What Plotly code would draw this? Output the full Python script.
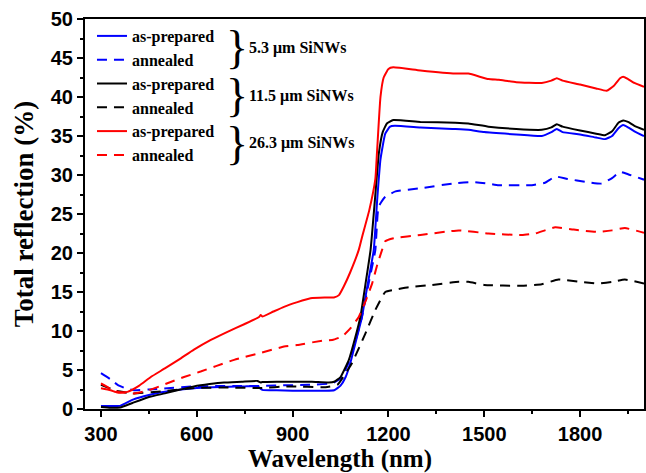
import plotly.graph_objects as go

# ---- data (wavelength in nm, total reflection in %) ----
x_blue_prep = [300, 330, 360, 400, 450, 500, 550, 600, 650, 700, 750, 790, 805, 850, 900, 950, 1000, 1030,
               1050, 1066, 1080, 1100, 1117, 1135, 1154, 1165, 1175, 1190, 1205, 1220, 1300, 1400, 1450, 1500,
               1600, 1680, 1710, 1727, 1745, 1800, 1850, 1878, 1900, 1920, 1935, 1950, 1970, 2000]
y_blue_prep = [0.4, 0.4, 0.4, 1.2, 1.8, 2.2, 2.5, 2.7, 2.8, 2.85, 2.9, 2.9, 2.45, 2.4, 2.35, 2.35, 2.35, 2.4,
               3.0, 4.1, 5.8, 9.0, 11.8, 16.0, 20.4, 27.0, 32.0, 35.3, 36.2, 36.3, 36.1, 35.9, 35.8, 35.5,
               35.2, 35.0, 35.5, 35.9, 35.5, 35.2, 34.8, 34.6, 35.0, 36.0, 36.4, 36.1, 35.6, 35.0]

x_blue_ann = [300, 330, 352, 380, 404, 450, 508, 591, 717, 800, 888, 950, 1024, 1055, 1080, 1100, 1117, 1140,
              1159, 1169, 1190, 1222, 1300, 1400, 1461, 1513, 1545, 1649, 1690, 1722, 1760, 1820, 1867, 1900,
              1925, 1950, 2000]
y_blue_ann = [4.6, 3.8, 3.1, 2.6, 2.4, 2.5, 2.65, 2.9, 2.95, 2.95, 3.05, 3.1, 3.3, 4.1, 6.5, 9.2, 11.8, 16.5,
              20.4, 25.9, 27.2, 27.9, 28.3, 28.9, 29.1, 28.9, 28.7, 28.7, 29.0, 29.8, 29.5, 29.1, 28.9, 29.6,
              30.4, 30.1, 29.4]

x_black_prep = [300, 330, 360, 400, 456, 500, 539, 591, 640, 685, 740, 790, 800, 805, 850, 914, 960, 1013,
                1030, 1050, 1076, 1095, 1112, 1128, 1144, 1158, 1170, 1182, 1195, 1215, 1300, 1409, 1450, 1513,
                1600, 1680, 1710, 1727, 1745, 1800, 1850, 1878, 1900, 1920, 1935, 1950, 1970, 2000]
y_black_prep = [0.25, 0.15, 0.2, 0.8, 1.6, 2.0, 2.4, 2.9, 3.2, 3.4, 3.5, 3.6, 3.4, 3.45, 3.5, 3.5, 3.5, 3.4,
                3.5, 4.1, 6.3, 9.0, 11.8, 16.0, 20.4, 27.0, 32.8, 35.5, 36.6, 37.05, 36.8, 36.7, 36.6, 36.2,
                35.9, 35.8, 36.1, 36.5, 36.2, 35.7, 35.3, 35.1, 35.6, 36.7, 37.0, 36.8, 36.3, 35.8]

x_black_ann = [300, 330, 350, 400, 500, 600, 700, 800, 888, 1003, 1040, 1055, 1086, 1128, 1159, 1190, 1222,
               1263, 1336, 1420, 1450, 1500, 1617, 1680, 1732, 1800, 1857, 1900, 1940, 2000]
y_black_ann = [3.1, 2.6, 2.3, 2.0, 2.3, 2.7, 2.75, 2.7, 2.9, 2.8, 3.1, 3.9, 5.9, 9.7, 12.7, 15.0, 15.3,
               15.6, 15.9, 16.3, 16.3, 15.9, 15.8, 16.0, 16.6, 16.3, 16.1, 16.3, 16.6, 16.1]

x_red_prep = [300, 330, 352, 383, 420, 456, 500, 550, 591, 644, 696, 750, 795, 800, 805, 840, 873, 915, 956,
              1000, 1029, 1045, 1060, 1080, 1107, 1117, 1140, 1159, 1164, 1175, 1185, 1200, 1215, 1300, 1409,
              1450, 1513, 1545, 1600, 1680, 1710, 1727, 1745, 1800, 1850, 1883, 1905, 1925, 1935, 1950, 1970, 2000]
y_red_prep = [2.65, 2.4, 2.1, 2.2, 3.0, 4.1, 5.2, 6.5, 7.6, 8.85, 9.9, 10.9, 11.8, 12.05, 11.85, 12.5, 13.1,
              13.7, 14.2, 14.3, 14.3, 14.6, 15.7, 17.5, 20.4, 22.0, 25.5, 29.5, 32.8, 40.0, 42.5, 43.6, 43.8,
              43.4, 43.0, 43.0, 42.3, 42.2, 41.9, 41.8, 42.1, 42.4, 42.1, 41.6, 41.1, 40.8, 41.4, 42.4, 42.6,
              42.3, 41.8, 41.3]

x_red_ann = [300, 330, 352, 404, 450, 508, 560, 612, 660, 717, 800, 873, 914, 998, 1024, 1055, 1080, 1107,
             1130, 1149, 1165, 1180, 1190, 1216, 1300, 1420, 1513, 1617, 1659, 1722, 1780, 1857, 1900, 1940, 2000]
y_red_ann = [3.3, 2.6, 2.2, 2.0, 2.4, 3.3, 4.1, 4.8, 5.5, 6.3, 7.2, 8.0, 8.2, 8.8, 8.85, 9.3, 10.3, 11.8,
             14.0, 16.1, 18.5, 20.4, 21.5, 21.9, 22.3, 22.9, 22.5, 22.3, 22.5, 23.3, 23.0, 22.7, 22.9, 23.2, 22.6]

legend_names = ["as-prepared", "annealed"]
group_labels = ["5.3 \u03bcm SiNWs", "11.5 \u03bcm SiNWs", "26.3 \u03bcm SiNWs"]
x_title = "Wavelength (nm)"
y_title = "Total reflection (%)"
x_ticks = [300, 600, 900, 1200, 1500, 1800]
y_ticks = [0, 5, 10, 15, 20, 25, 30, 35, 40, 45, 50]

series = [
    (x_blue_prep, y_blue_prep, "#0000FF", "solid", legend_names[0]),
    (x_blue_ann, y_blue_ann, "#0000FF", "10px,7px", legend_names[1]),
    (x_black_prep, y_black_prep, "#000000", "solid", legend_names[0]),
    (x_black_ann, y_black_ann, "#000000", "10px,7px", legend_names[1]),
    (x_red_prep, y_red_prep, "#FF0000", "solid", legend_names[0]),
    (x_red_ann, y_red_ann, "#FF0000", "10px,7px", legend_names[1]),
]

fig = go.Figure()
for xs, ys, col, dash, name in series:
    fig.add_trace(go.Scatter(x=xs, y=ys, mode="lines", name=name,
                             line=dict(color=col, width=2, dash=dash, shape="spline", smoothing=0.4)))

axis_font = dict(family="Liberation Sans, Arial", size=20, color="black", weight="bold")
title_font = dict(family="Liberation Serif, Times New Roman", size=27, color="black", weight="bold")
xtitle_font = dict(family="Liberation Serif, Times New Roman", size=25, color="black", weight="bold")

fig.update_layout(
    width=646, height=473,
    margin=dict(l=85, r=2, t=19, b=64),
    paper_bgcolor="white", plot_bgcolor="white",
    showlegend=True,
    legend=dict(x=0.0125, y=1.0, xanchor="left", yanchor="top",
                bgcolor="rgba(0,0,0,0)", borderwidth=0,
                font=dict(family="Liberation Serif, Times New Roman", size=16, color="black", weight="bold"),
                tracegroupgap=0, itemwidth=30),
    xaxis=dict(range=[250, 2000], tickvals=x_ticks, ticktext=[str(v) for v in x_ticks],
               ticks="outside", ticklen=6, tickwidth=2, tickcolor="black",
               minor=dict(dtick=150, tick0=300, ticks="outside", ticklen=3, tickwidth=1.5, tickcolor="black"),
               showline=True, linewidth=2, linecolor="black", mirror=True,
               showgrid=False, zeroline=False, tickfont=axis_font, automargin=False),
    yaxis=dict(range=[0, 50], tickvals=y_ticks, ticktext=[str(v) for v in y_ticks],
               ticks="outside", ticklen=6, tickwidth=2, tickcolor="black",
               minor=dict(dtick=2.5, tick0=0, ticks="outside", ticklen=3, tickwidth=1.5, tickcolor="black"),
               showline=True, linewidth=2, linecolor="black", mirror=True,
               showgrid=False, zeroline=False, tickfont=axis_font, automargin=False,
               title=dict(text=y_title, font=title_font, standoff=9)),
)

# x-axis title (offset left of the plot centre, as in the original figure)
fig.add_annotation(xref="paper", yref="paper", x=0.456, y=-0.127, text=x_title, showarrow=False,
                   xanchor="center", yanchor="middle", font=xtitle_font)

brace_y = [0.926, 0.803, 0.682]
for yy, lab in zip(brace_y, group_labels):
    fig.add_annotation(xref="paper", yref="paper", x=0.272, y=yy, text="}", showarrow=False,
                       xanchor="center", yanchor="middle",
                       font=dict(family="Liberation Serif, Times New Roman", size=46, color="black"))
    fig.add_annotation(xref="paper", yref="paper", x=0.29, y=yy, text=lab, showarrow=False,
                       xanchor="left", yanchor="middle",
                       font=dict(family="Liberation Serif, Times New Roman", size=16, color="black", weight="bold"))

fig.write_html("out.html", config={"displayModeBar": False},
               post_script="document.body.style.margin='0';document.body.style.overflow='hidden';")
